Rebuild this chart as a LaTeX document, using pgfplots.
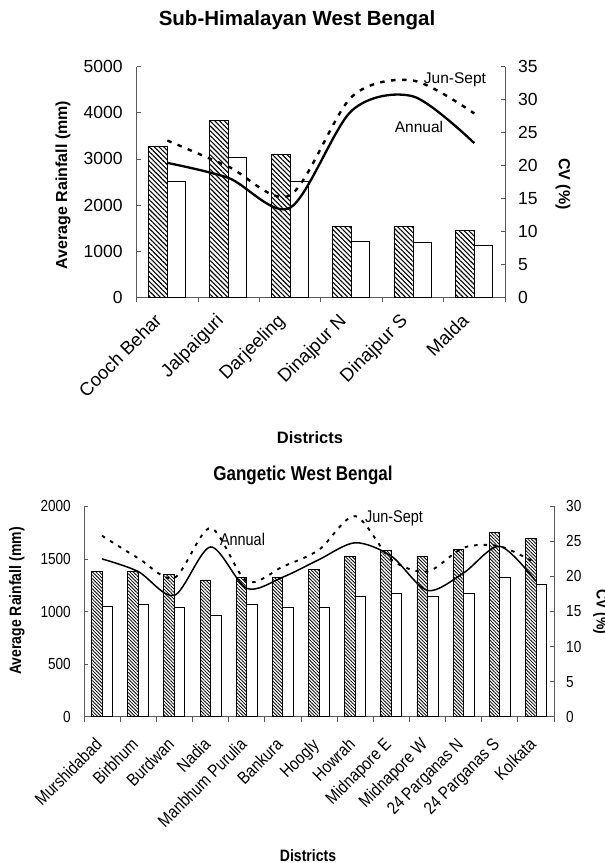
\documentclass[border=0pt]{standalone}
\usepackage{pgfplots}
\pgfplotsset{compat=1.18}
\usetikzlibrary{patterns.meta}
\usepackage{fontspec}
\setmainfont{Liberation Sans}
\newfontfamily\narrow[FakeStretch=0.85]{Liberation Sans}
\begin{document}
\begin{tikzpicture}[x=1pt,y=1pt]
\useasboundingbox (0,0) rectangle (605,863);
% ---------------- TOP CHART ----------------
\begin{axis}[
  at={(136.7pt,565.7pt)}, anchor=south west, scale only axis,
  width=368.3pt, height=230.6pt,
  xmin=-0.5, xmax=5.5, ymin=0, ymax=5000,
  axis x line*=bottom, axis y line*=left,
  axis line style={draw=gray!70!black, line width=0.8pt},
  every tick/.style={draw=gray!70!black, line width=0.8pt},
  tick align=inside, major tick length=4pt,
  ytick={0,1000,...,5000},
  xtick={0,...,5},
  xticklabels={Cooch Behar,Jalpaiguri,Darjeeling,Dinajpur N,Dinajpur S,Malda},
  major x tick style={draw=none},
  minor xtick={-0.5,0.5,...,5.5},
  minor tick length=5pt,
  minor x tick style={yshift=-5pt},
  /pgf/number format/assume math mode=true,
  /pgf/number format/1000 sep={},
  yticklabel style={font=\fontsize{17.5}{17.5}\selectfont, inner sep=0pt, xshift=-14pt},
  xticklabel style={font=\fontsize{18.5}{18.5}\selectfont, inner sep=0pt, xshift=-14pt, yshift=-15pt, rotate=45, anchor=north east},
]
\addplot[draw=black, line width=0.8pt, fill=white, pattern={Lines[angle=-45,distance=3.4pt,line width=1.1pt]}, pattern color=black, ybar, bar width=19pt, bar shift=-9.5pt]
  coordinates {(0,3270) (1,3830) (2,3100) (3,1540) (4,1540) (5,1450)};
\addplot[draw=black, line width=0.8pt, fill=white, ybar, bar width=18pt, bar shift=9pt]
  coordinates {(0,2520) (1,3040) (2,2510) (3,1220) (4,1200) (5,1130)};
\end{axis}
\begin{axis}[
  at={(136.7pt,565.7pt)}, anchor=south west, scale only axis,
  width=368.3pt, height=230.6pt,
  xmin=-0.5, xmax=5.5, ymin=0, ymax=35,
  axis x line=none, axis y line*=right,
  axis line style={draw=gray!70!black, line width=0.8pt},
  every tick/.style={draw=gray!70!black, line width=0.8pt},
  tick align=inside, major tick length=4pt,
  ytick={0,5,...,35},
  /pgf/number format/assume math mode=true,
  yticklabel style={font=\fontsize{17.5}{17.5}\selectfont, inner sep=0pt, xshift=13pt},
]
\addplot[smooth, black, line width=2.3pt]
  coordinates {(0,20.4) (1,18.1) (2,13.6) (3,28.3) (4,30.5) (5,23.4)};
\addplot[smooth, black, line width=2.4pt, dash pattern=on 4.5pt off 6.5pt]
  coordinates {(0,23.8) (1,19.8) (2,15.5) (3,30.4) (4,32.9) (5,27.9)};
\end{axis}
\node[font=\bfseries\fontsize{20.5}{20.5}\selectfont] at (297,843) {Sub-Himalayan West Bengal};
\node[font=\bfseries\fontsize{16}{16}\selectfont, rotate=90] at (63,678) {Average Rainfall (mm)};
\node[font=\bfseries\fontsize{16}{16}\selectfont, rotate=-90] at (563,679) {CV (\%)};
\node[font=\bfseries\fontsize{16.5}{16.5}\selectfont] at (310,425) {Districts};
\node[font=\fontsize{15.5}{15.5}\selectfont] at (455,783) {Jun-Sept};
\node[font=\fontsize{15.5}{15.5}\selectfont] at (419,736) {Annual};
% ---------------- BOTTOM CHART ----------------
\begin{axis}[
  at={(84pt,146.3pt)}, anchor=south west, scale only axis,
  width=470pt, height=210.4pt,
  xmin=-0.5, xmax=12.5, ymin=0, ymax=2000,
  axis x line*=bottom, axis y line*=left,
  axis line style={draw=gray!70!black, line width=0.8pt},
  every tick/.style={draw=gray!70!black, line width=0.8pt},
  tick align=inside, major tick length=4pt,
  ytick={0,500,...,2000},
  xtick={0,...,12},
  xticklabels={Murshidabad,Birbhum,Burdwan,Nadia,Manbhum Purulia,Bankura,Hoogly,Howrah,Midnapore E,Midnapore W,24 Parganas N,24 Parganas S,Kolkata},
  major x tick style={draw=none},
  minor xtick={-0.5,0.5,...,12.5},
  minor tick length=5pt,
  minor x tick style={yshift=-5pt},
  /pgf/number format/assume math mode=true,
  /pgf/number format/1000 sep={},
  yticklabel style={font=\narrow\fontsize{16}{16}\selectfont, inner sep=0pt, xshift=-13pt},
  xticklabel style={font=\narrow\fontsize{17.5}{17.5}\selectfont, inner sep=0pt, xshift=-8pt, yshift=-20pt, rotate=45, anchor=north east},
]
\addplot[draw=black, line width=0.8pt, fill=white, pattern={Lines[angle=-45,distance=2.4pt,line width=0.8pt]}, pattern color=black, ybar, bar width=10.5pt, bar shift=-5.25pt]
  coordinates {(0,1380) (1,1380) (2,1350) (3,1300) (4,1325) (5,1320) (6,1400) (7,1524) (8,1578) (9,1524) (10,1588) (11,1752) (12,1692)};
\addplot[draw=black, line width=0.8pt, fill=white, ybar, bar width=10.5pt, bar shift=5.25pt]
  coordinates {(0,1050) (1,1070) (2,1040) (3,960) (4,1070) (5,1040) (6,1040) (7,1143) (8,1168) (9,1143) (10,1168) (11,1324) (12,1261)};
\end{axis}
\begin{axis}[
  at={(84pt,146.3pt)}, anchor=south west, scale only axis,
  width=470pt, height=210.4pt,
  xmin=-0.5, xmax=12.5, ymin=0, ymax=30,
  axis x line=none, axis y line*=right,
  axis line style={draw=gray!70!black, line width=0.8pt},
  every tick/.style={draw=gray!70!black, line width=0.8pt},
  tick align=inside, major tick length=4pt,
  ytick={0,5,...,30},
  /pgf/number format/assume math mode=true,
  yticklabel style={font=\narrow\fontsize{16}{16}\selectfont, inner sep=0pt, xshift=12pt},
]
\addplot[smooth, black, line width=1.5pt]
  coordinates {(0,22.5) (1,20.7) (2,17.3) (3,24.2) (4,18.3) (5,19.9) (6,22.4) (7,24.8) (8,22.9) (9,18.0) (10,20.5) (11,24.3) (12,19.3)};
\addplot[smooth, black, line width=1.9pt, dash pattern=on 3.5pt off 6pt]
  coordinates {(0,25.8) (1,22.6) (2,19.8) (3,26.9) (4,19.3) (5,21.4) (6,23.8) (7,28.6) (8,22.4) (9,20.7) (10,24.1) (11,24.3) (12,21.9)};
\end{axis}
\node[font=\narrow\bfseries\fontsize{20}{20}\selectfont] at (303,388) {Gangetic West Bengal};
\node[font=\narrow\bfseries\fontsize{16.5}{16.5}\selectfont, rotate=90] at (17,262) {Average Rainfall (mm)};
\node[font=\narrow\bfseries\fontsize{16.5}{16.5}\selectfont, rotate=-90] at (601,251) {CV (\%)};
\node[font=\narrow\bfseries\fontsize{16.5}{16.5}\selectfont] at (308,7) {Districts};
\node[font=\narrow\fontsize{17}{17}\selectfont] at (394,345) {Jun-Sept};
\node[font=\narrow\fontsize{17}{17}\selectfont] at (242.5,324) {Annual};
\end{tikzpicture}
\end{document}
